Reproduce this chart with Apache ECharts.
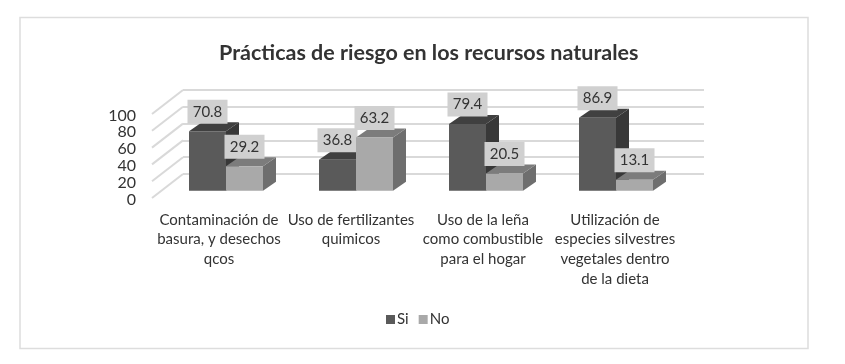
<!DOCTYPE html>
<html>
<head>
<meta charset="utf-8">
<script src="https://cdn.jsdelivr.net/npm/echarts@6/dist/echarts.min.js"></script>
<style>
  html, body { margin: 0; padding: 0; background: #fff; }
  #chart { width: 845px; height: 364px; }
</style>
</head>
<body>
<div id="chart"></div>
<script>
  const categories = [
    'Contaminación de\nbasura, y desechos\nqcos',
    'Uso de fertilizantes\nquimicos',
    'Uso de la leña\ncomo combustible\npara el hogar',
    'Utilización de\nespecies silvestres\nvegetales dentro\nde la dieta'
  ];
  const si = [70.8, 36.8, 79.4, 86.9];
  const no = [29.2, 63.2, 20.5, 13.1];
  const ticks = [0, 20, 40, 60, 80, 100];

  const font = 'Lato';
  const textColor = '#333333';
  const gridColor = '#d9d9d9';
  const depthX = 13;
  const depthY = 9;

  // barra 3D: frente, tapa, lado y su etiqueta con fondo gris
  function bar3d(shift, colors) {
    return function (params, api) {
      const top = api.coord([api.value(0), api.value(1)]);
      const base = api.coord([api.value(0), 0]);
      const w = api.size([1, 0])[0] * 37 / 130;
      const x = top[0] + shift * w;
      const poly = (points, fill) => ({
        type: 'polygon',
        shape: { points: points },
        style: { fill: fill }
      });
      return {
        type: 'group',
        children: [
          poly([[x + w, top[1]], [x + w + depthX, top[1] - depthY], [x + w + depthX, base[1] - depthY], [x + w, base[1]]], colors[2]),
          poly([[x, top[1]], [x + depthX, top[1] - depthY], [x + w + depthX, top[1] - depthY], [x + w, top[1]]], colors[1]),
          poly([[x, top[1]], [x + w, top[1]], [x + w, base[1]], [x, base[1]]], colors[0]),
          {
            type: 'text',
            z2: 10,
            x: x + w / 2,
            y: top[1] - 19.5,
            style: {
              text: api.value(1).toFixed(1),
              fill: textColor,
              font: '15px ' + font,
              align: 'center',
              verticalAlign: 'middle',
              backgroundColor: '#d0d0d0',
              padding: [4, 6, 4, 6],
              width: 28,
              lineHeight: 16
            }
          }
        ]
      };
    };
  }

  // lineas diagonales de la pared izquierda
  function wallLine(params, api) {
    const front = api.coord([0, api.value(1)]);
    const left = front[0] - api.size([1, 0])[0] / 2 - 1;
    const y = front[1] - 1.5;
    return {
      type: 'line',
      shape: { x1: left, y1: y, x2: left + 31, y2: y - 24 },
      style: { stroke: gridColor, lineWidth: 2 }
    };
  }

  const option = {
    animation: false,
    backgroundColor: '#fff',
    title: {
      text: 'Prácticas de riesgo en los recursos naturales',
      left: 214,
      top: 37,
      textStyle: { fontFamily: font, fontWeight: 'bold', fontSize: 21.5, color: textColor }
    },
    legend: {
      data: ['Si', 'No'],
      left: 381,
      top: 307,
      icon: 'rect',
      itemWidth: 9,
      itemHeight: 9,
      itemGap: 10,
      textStyle: { fontFamily: font, fontSize: 15, color: textColor, padding: [0, 0, 0, -3] }
    },
    graphic: [{
      type: 'rect',
      shape: { x: 20, y: 17.5, width: 788, height: 331 },
      style: { fill: 'none', stroke: '#dddddd', lineWidth: 1.5 },
      silent: true
    }],
    grid: [
      // plano del fondo
      { left: 183, top: 90, width: 521, height: 84 },
      // plano frontal: etiquetas de los ejes
      { left: 153, top: 115.5, width: 528, height: 84 },
      // plano de las barras
      { left: 161, top: 106.7, width: 520, height: 84 }
    ],
    xAxis: [
      { gridIndex: 0, type: 'category', data: categories, show: false },
      {
        gridIndex: 1,
        type: 'category',
        data: categories,
        axisLine: { show: false },
        axisTick: { show: false },
        axisLabel: { interval: 0, margin: 10.5, fontFamily: font, fontSize: 15, lineHeight: 19.7, color: textColor }
      },
      { gridIndex: 2, type: 'category', data: categories, show: false }
    ],
    yAxis: [
      {
        gridIndex: 0, type: 'value', min: 0, max: 100, interval: 20,
        axisLine: { show: false }, axisTick: { show: false }, axisLabel: { show: false },
        splitLine: { show: true, lineStyle: { color: gridColor, width: 2 } }
      },
      {
        gridIndex: 1, type: 'value', min: 0, max: 100, interval: 20,
        axisLine: { show: false }, axisTick: { show: false }, splitLine: { show: false },
        axisLabel: { margin: 17, fontFamily: font, fontSize: 16, color: textColor }
      },
      { gridIndex: 2, type: 'value', min: 0, max: 100, interval: 20, show: false, splitLine: { show: false } }
    ],
    series: [
      {
        type: 'custom', xAxisIndex: 1, yAxisIndex: 1, silent: true, z: 1,
        renderItem: wallLine,
        data: ticks.map(t => [0, t]),
        encode: { x: 0, y: 1 }
      },
      {
        name: 'Si', type: 'custom', xAxisIndex: 2, yAxisIndex: 2, z: 3,
        itemStyle: { color: '#5a5a5a' },
        renderItem: bar3d(-1, ['#5a5a5a', '#404040', '#383838']),
        data: si.map((v, i) => [i, v]),
        encode: { x: 0, y: 1 }
      },
      {
        name: 'No', type: 'custom', xAxisIndex: 2, yAxisIndex: 2, z: 4,
        itemStyle: { color: '#a9a9a9' },
        renderItem: bar3d(0, ['#a9a9a9', '#7c7c7c', '#6e6e6e']),
        data: no.map((v, i) => [i, v]),
        encode: { x: 0, y: 1 }
      }
    ]
  };

  const myChart = echarts.init(document.getElementById('chart'));
  myChart.setOption(option);
</script>
</body>
</html>
